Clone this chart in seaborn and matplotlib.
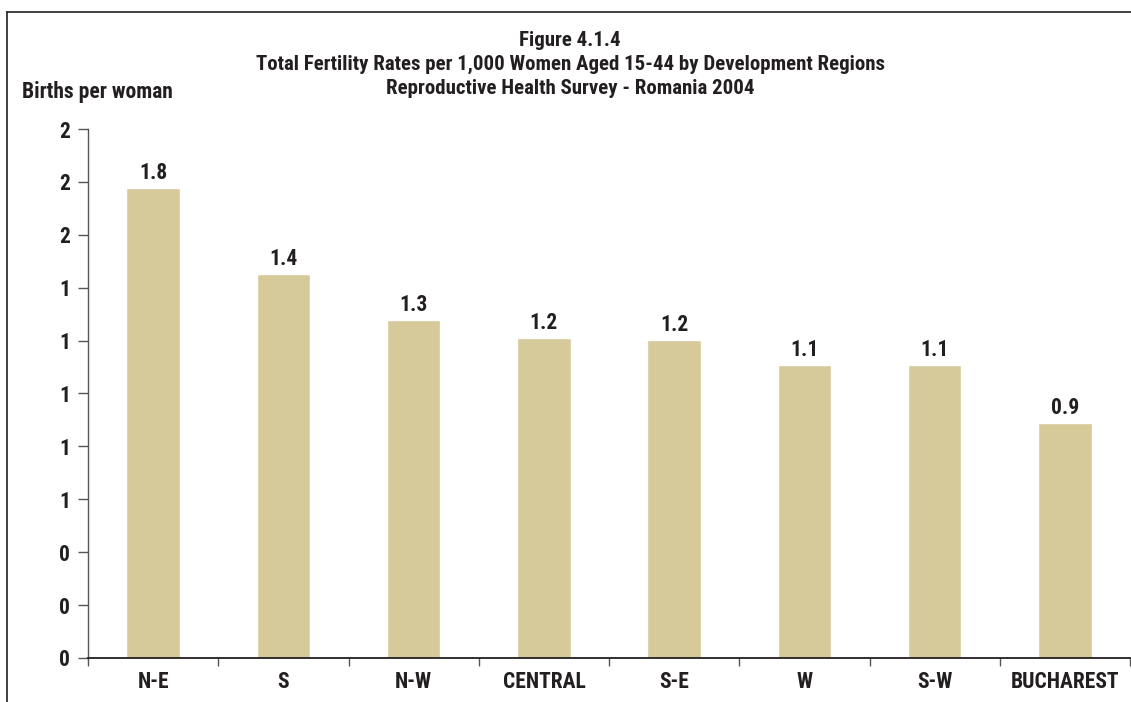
import matplotlib
matplotlib.use("Agg")
import matplotlib.pyplot as plt
from matplotlib import font_manager
from matplotlib.lines import Line2D
from matplotlib.ticker import FormatStrFormatter, MultipleLocator, FixedLocator
import seaborn as sns
import pandas as pd
import numpy as np

regions = ["N-E", "S", "N-W", "CENTRAL", "S-E", "W", "S-W", "BUCHAREST"]
rates = [1.777, 1.452, 1.277, 1.21, 1.202, 1.107, 1.107, 0.89]
labels = ["1.8", "1.4", "1.3", "1.2", "1.2", "1.1", "1.1", "0.9"]
title_lines = ["Figure 4.1.4",
               "Total Fertility Rates per 1,000 Women Aged 15-44 by Development Regions",
               "Reproductive Health Survey - Romania 2004"]
ylabel = "Births per woman"

sns.set_theme(style="white")
names = {f.name for f in font_manager.fontManager.ttflist}
fam = [f for f in ["Liberation Sans Narrow", "Roboto Condensed", "DejaVu Sans Condensed", "DejaVu Sans"] if f in names]
plt.rcParams["font.family"] = fam
plt.rcParams["font.weight"] = "bold"
stretch = "normal" if fam[0] == "Liberation Sans Narrow" else "condensed"

W, H = 1131, 702
fig = plt.figure(figsize=(W / 100, H / 100), dpi=100)
ax = fig.add_axes([88 / W, 1 - 658 / H, (1130 - 88) / W, (658 - 129) / H])

df = pd.DataFrame({"region": regions, "rate": rates})
sns.barplot(data=df, x="region", y="rate", color="#D6C99A", saturation=1,
            width=0.41, ax=ax)

TXT = "#231F20"
for i, (v, t) in enumerate(zip(rates, labels)):
    ax.text(i, v + 0.015, t, ha="center", va="bottom", fontsize=15.5,
            fontweight="heavy", color=TXT)

ax.set_ylim(0, 2.0)
ax.set_xlim(-0.5, len(regions) - 0.5)
ax.yaxis.set_major_locator(MultipleLocator(0.2))
ax.yaxis.set_major_formatter(FormatStrFormatter("%.0f"))
ax.set_xlabel("")
ax.set_ylabel("")
for s in ["top", "right"]:
    ax.spines[s].set_visible(False)
ax.spines["left"].set_color("#555555")
ax.spines["left"].set_linewidth(1.0)
ax.spines["bottom"].set_color(TXT)
ax.spines["bottom"].set_linewidth(1.3)

ax.tick_params(axis="y", which="major", left=True, length=7, width=1.0,
               color="#555555", labelsize=15.5, labelcolor=TXT, pad=6)
ax.tick_params(axis="x", which="major", bottom=False, labelsize=15.5,
               labelcolor=TXT, pad=3)
ax.xaxis.set_minor_locator(FixedLocator(np.arange(-0.5, len(regions), 1.0)))
ax.tick_params(axis="x", which="minor", bottom=True, length=6, width=1.0,
               color="#555555")
for lab in ax.get_xticklabels() + ax.get_yticklabels():
    lab.set_fontweight("heavy")
    lab.set_fontstretch(stretch)

tys = [40, 64, 89]
for t, y in zip(title_lines, tys):
    fig.text(570 / W, 1 - y / H, t, ha="center", va="center", fontsize=15,
             fontweight="heavy", color=TXT, fontstretch=stretch)
fig.text(22 / W, 1 - 92 / H, ylabel, ha="left", va="center", fontsize=15.5,
         fontweight="heavy", color=TXT, fontstretch=stretch)

fig.add_artist(Line2D([7 / W, 7 / W], [0, 1 - 12 / H], transform=fig.transFigure,
                      color=TXT, lw=1.2))
fig.add_artist(Line2D([7 / W, 1], [1 - 12 / H, 1 - 12 / H], transform=fig.transFigure,
                      color=TXT, lw=1.2))

fig.savefig("out.png", dpi=100, facecolor="white")
